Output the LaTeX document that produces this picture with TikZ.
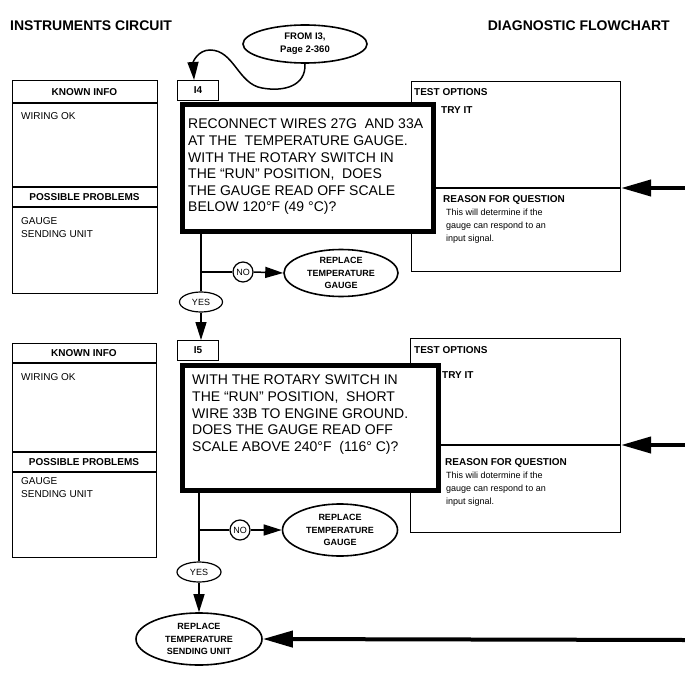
\documentclass[tikz,border=0pt]{standalone}
\usepackage{fontspec}
\setmainfont{Liberation Sans}
\usetikzlibrary{arrows.meta,shapes.geometric}
\tikzset{
  box/.style={draw, line width=1.1pt, rectangle, inner sep=0pt, anchor=north west},
  lbl/.style={draw, line width=1.1pt, rectangle, inner sep=0pt, anchor=north west, minimum width=41pt, minimum height=20pt, font=\bfseries\fontsize{10}{12}\selectfont},
  thickbox/.style={draw, line width=5pt, fill=white, rectangle, inner sep=0pt, anchor=north west},
  hdr/.style={font=\bfseries\fontsize{10}{12}\selectfont, inner sep=0pt},
  body/.style={font=\fontsize{10}{13}\selectfont, inner sep=0pt, anchor=north west, align=left},
  small/.style={font=\fontsize{9}{13}\selectfont, inner sep=0pt, anchor=north west, align=left},
  qtext/.style={font=\fontsize{14}{16.6}\selectfont, inner sep=0pt, anchor=north west, align=left},
  title/.style={font=\bfseries\fontsize{14}{16}\selectfont, inner sep=0pt},
  endell/.style={ellipse, draw, line width=1.6pt, inner sep=0pt, align=center, font=\bfseries\fontsize{9}{12.5}\selectfont},
  yesell/.style={ellipse, draw, line width=1.2pt, inner sep=0pt, minimum width=43pt, minimum height=20pt, font=\fontsize{9}{10}\selectfont},
  nocirc/.style={circle, draw, line width=1.2pt, inner sep=0pt, minimum size=20pt, font=\fontsize{9}{10}\selectfont},
  conn/.style={line width=1.5pt},
  arr/.style={line width=1.5pt, -{Triangle[length=18pt,width=11pt]}},
  bigarr/.style={line width=4pt, -{Triangle[length=30pt,width=16pt]}}
}
\begin{document}
\begin{tikzpicture}[x=1pt,y=-1pt]
\useasboundingbox (0,0) rectangle (685,674);

% titles
\node[title, anchor=west] (t1) at (10,26) {INSTRUMENTS CIRCUIT};
\node[title, anchor=east] (t2) at (670,26) {DIAGNOSTIC FLOWCHART};

% ===== Block 1 =====
\node[box, minimum width=145pt, minimum height=213pt] (k1) at (12,80) {};
\draw[line width=1.1pt] (12,103) -- (157,103);
\draw[line width=1.1pt] (12,187) -- (157,187);
\draw[line width=1.1pt] (12,207) -- (157,207);
\node[hdr] (k1h) at (84.5,92) {KNOWN INFO};
\node[body] (k1a) at (21,112.5) {WIRING OK};
\node[hdr] (k1p) at (84.5,197) {POSSIBLE PROBLEMS};
\node[body] (k1b) at (21,217.5) {GAUGE\\SENDING UNIT};

\node[box, minimum width=209pt, minimum height=190pt] (o1) at (411,81) {};
\draw[line width=1.1pt] (411,188) -- (620,188);
\node[hdr, anchor=west] (o1h) at (414,92) {TEST OPTIONS};
\node[hdr, anchor=west] (o1t) at (441,110) {TRY IT};
\node[hdr, anchor=west] (o1r) at (443,200) {REASON FOR QUESTION};
\node[small] (o1b) at (446,208.5) {This will determine if the\\gauge can respond to an\\input signal.};

\node[lbl] (i4) at (177,80) {I4};
\node[thickbox, minimum width=251pt, minimum height=126pt] (q1) at (179.5,102.5) {};
\node[qtext] (q1t) at (188,119) {RECONNECT WIRES 27G\ \ AND 33A\\AT THE\ \ TEMPERATURE GAUGE.\\WITH THE ROTARY SWITCH IN\\THE “RUN” POSITION,\ \ DOES\\THE GAUGE READ OFF SCALE\\BELOW 120°F (49 °C)?};

\node[endell, minimum width=124pt, minimum height=38pt, font=\bfseries\fontsize{9.5}{13}\selectfont] (fr) at (305,44) {FROM I3,\\Page 2-360};
\draw[arr] (fr.south) .. controls (306,86) and (284,92) .. (262,88)
   .. controls (238,84) and (234,50) .. (210,50)
   .. controls (198,50) and (193,62) .. ([xshift=-4pt]i4.north);

\node[nocirc] (no1) at (243,272) {NO};
\node[endell, minimum width=114pt, minimum height=47pt] (rep1) at (341,273) {REPLACE\\TEMPERATURE\\GAUGE};
\node[yesell] (yes1) at (201,302) {YES};

\coordinate (e1) at (685,188);
\draw[bigarr] (e1) -- (e1 -| o1.east);

% ===== Block 2 =====
\node[box, minimum width=144pt, minimum height=214pt] (k2) at (12,343) {};
\draw[line width=1.1pt] (12,363) -- (156,363);
\draw[line width=1.1pt] (12,452) -- (156,452);
\draw[line width=1.1pt] (12,472) -- (156,472);
\node[hdr] (k2h) at (84,353) {KNOWN INFO};
\node[body] (k2a) at (21,373.5) {WIRING OK};
\node[hdr] (k2p) at (84,462) {POSSIBLE PROBLEMS};
\node[body] (k2b) at (21,477) {GAUGE\\SENDING UNIT};

\node[box, minimum width=210pt, minimum height=194pt] (o2) at (410,338) {};
\draw[line width=1.1pt] (410,445) -- (620,445);
\node[hdr, anchor=west] (o2h) at (414,350) {TEST OPTIONS};
\node[hdr, anchor=west] (o2t) at (442,375) {TRY IT};
\node[hdr, anchor=west] (o2r) at (445,463) {REASON FOR QUESTION};
\node[small] (o2b) at (446,472) {This wili dotermine if the\\gauge can respond to an\\input signal.};

\node[lbl] (i5) at (177,340) {I5};
\node[thickbox, minimum width=256pt, minimum height=125pt] (q2) at (179.5,362.5) {};
\node[qtext] (q2t) at (192,375) {WITH THE ROTARY SWITCH IN\\THE “RUN” POSITION,\ \ SHORT\\WIRE 33B TO ENGINE GROUND.\\DOES THE GAUGE READ OFF\\SCALE ABOVE 240°F\ \ (116° C)?};

\node[nocirc] (no2) at (240,530) {NO};
\node[endell, minimum width=115pt, minimum height=52pt] (rep2) at (340,530) {REPLACE\\TEMPERATURE\\GAUGE};
\node[yesell, minimum width=44pt] (yes2) at (199,572) {YES};
\node[endell, minimum width=126pt, minimum height=52pt] (rep3) at (199,639) {REPLACE\\TEMPERATURE\\SENDING UNIT};

\coordinate (e2) at (685,445);
\draw[bigarr] (e2) -- (e2 -| o2.east);
\coordinate (e3) at (685,640);
\draw[bigarr] (e3) -- (rep3.east);

% ===== connectors block 1 =====
\draw[conn] (q1.south -| yes1) -- (yes1.north);
\draw[conn] (no1.west -| yes1) -- (no1.west);
\draw[arr] (no1.east) -- (rep1.west);
\draw[arr] (yes1.south) -- (yes1.south |- i5.north);

% ===== connectors block 2 =====
\draw[conn] (q2.south -| yes2) -- (yes2.north);
\draw[conn] (no2.west -| yes2) -- (no2.west);
\draw[arr] (no2.east) -- (rep2.west);
\draw[arr] (yes2.south) -- (rep3.north);
\end{tikzpicture}
\end{document}
